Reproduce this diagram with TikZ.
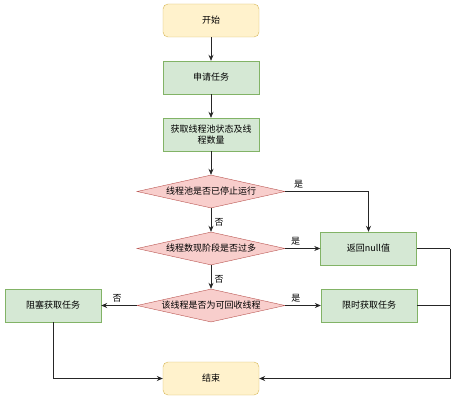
\documentclass[tikz,border=0pt]{standalone}
\usepackage{fontspec}
\setmainfont{Noto Sans CJK SC}
\usepackage{tikz}
\usetikzlibrary{arrows.meta, shapes.geometric}

\definecolor{termfill}{HTML}{FFF2CC}
\definecolor{termline}{HTML}{D6B656}
\definecolor{taskfill}{HTML}{D5E8D4}
\definecolor{taskline}{HTML}{82B366}
\definecolor{askfill}{HTML}{F8CECC}
\definecolor{askline}{HTML}{B85450}

\begin{document}
\begin{tikzpicture}[x=1pt, y=1pt, font=\fontsize{9}{11}\selectfont,
    term/.style={draw=termline, fill=termfill, rounded corners=5pt, minimum width=96pt, minimum height=33pt, inner sep=1pt},
    task/.style={draw=taskline, fill=taskfill, minimum width=96pt, minimum height=33pt, inner sep=1pt, align=center, text width=94pt},
    ask/.style={diamond, draw=askline, fill=askfill, aspect=4.48, minimum width=148pt, minimum height=33pt, inner sep=0pt},
    flow/.style={draw=black!85, line width=0.7pt, -{Stealth[length=6pt, width=5pt]}},
    wire/.style={draw=black!85, line width=0.7pt}]
    \useasboundingbox (0,0) rectangle (460,400);

    \node[term] (start) at (211, 379.5) {开始};
    \node[task] (apply) at (211, 322.5) {申请任务};
    \node[task] (fetch) at (211, 265.5) {获取线程池状态及线\\程数量};
    \node[ask] (stopped) at (211, 208.5) {线程池是否已停止运行};
    \node[ask] (toomany) at (211, 151.5) {线程数现阶段是否过多};
    \node[task] (retnull) at (368.5, 151.5) {返回null值};
    \node[ask] (reclaim) at (211, 94.5) {该线程是否为可回收线程};
    \node[task] (block) at (53, 94.5) {阻塞获取任务};
    \node[task] (timed) at (369, 94.5) {限时获取任务};
    \node[term] (end) at (211, 21.5) {结束};
    \coordinate (rbend) at (450, 151.5);

    % main line
    \draw[flow] (start) -- (apply);
    \draw[flow] (apply) -- (fetch);
    \draw[flow] (fetch) -- (stopped);
    \draw[flow] (stopped) -- node[right, pos=0.6]{否} (toomany);
    \draw[flow] (toomany) -- node[right, pos=0.6]{否} (reclaim);

    % yes / no branches
    \draw[flow] (stopped.east) -| node[above, pos=0.08]{是} (retnull.north);
    \draw[flow] (toomany.east) -- node[above, pos=0.3]{是} (retnull.west);
    \draw[flow] (reclaim.east) -- node[above, pos=0.3]{是} (timed.west);
    \draw[flow] (reclaim.west) -- node[above, pos=0.55]{否} (block.east);

    % to the end
    \draw[flow] (block.south) |- (end.west);
    \draw[wire] (retnull.east) -- (rbend);
    \draw[flow] (rbend) |- (end.east);
    \draw[wire] (timed.east) -- (timed.east -| rbend);
\end{tikzpicture}
\end{document}
